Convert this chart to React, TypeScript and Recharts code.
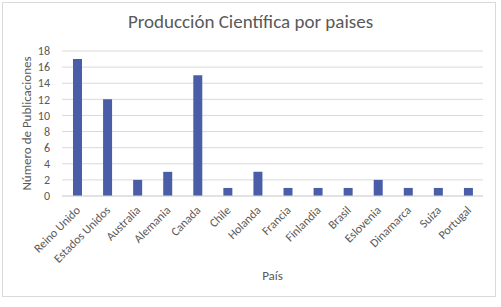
import { Bar, BarChart, CartesianGrid, Label, XAxis, YAxis } from 'recharts';

const countries = [
  'Reino Unido', 'Estados Unidos', 'Australia', 'Alemania', 'Canada', 'Chile', 'Holanda',
  'Francia', 'Finlandia', 'Brasil', 'Eslovenia', 'Dinamarca', 'Suiza', 'Portugal',
];
const publications = [17, 12, 2, 3, 15, 1, 3, 1, 1, 1, 2, 1, 1, 1];
const yTicks = [0, 2, 4, 6, 8, 10, 12, 14, 16, 18];

const data = countries.map((pais, i) => ({ pais, pubs: publications[i] }));

const font = 'Calibri, Carlito, "Open Sans", sans-serif';

function AngledTick({ x, y, payload }: any) {
  return (
    <text
      x={x + 4}
      y={y + 7}
      textAnchor="end"
      fontSize={12}
      fill="#595959"
      fontFamily={font}
      transform={`rotate(-45, ${x + 4}, ${y + 7})`}
    >
      {payload.value}
    </text>
  );
}

export default function App() {
  return (
    <div style={{ position: 'absolute', left: 0, top: 0, width: 501, height: 307, background: '#fff' }}>
      <div
        style={{
          position: 'absolute', left: 2, top: 2, width: 494, height: 295,
          border: '1px solid #d9d9d9', boxSizing: 'border-box',
        }}
      />
      <div
        style={{
          position: 'absolute', left: 0, top: 10, width: 501, textAlign: 'center',
          fontFamily: font, fontSize: 19, color: '#595959',
        }}
      >
        Producción Científica por paises
      </div>
      <BarChart
        width={501}
        height={307}
        data={data}
        margin={{ top: 51, right: 18, bottom: 0, left: 0 }}
        style={{ position: 'absolute', left: 0, top: 0 }}
      >
        <CartesianGrid vertical={false} stroke="#d9d9d9" />
        <XAxis
          dataKey="pais"
          interval={0}
          height={111}
          tickLine={false}
          axisLine={{ stroke: '#d9d9d9' }}
          tick={<AngledTick />}
        >
          <Label value="País" position="insideBottom" offset={27} fontSize={13} fill="#595959" fontFamily={font} />
        </XAxis>
        <YAxis
          domain={[0, 18]}
          ticks={yTicks}
          interval={0}
          width={62}
          tickLine={false}
          axisLine={false}
          tickMargin={6}
          tick={{ fontSize: 12, fill: '#595959', fontFamily: font }}
        >
          <Label
            value="Número de Publicaciones"
            angle={-90}
            position="insideLeft"
            offset={26}
            style={{ textAnchor: 'middle', fontSize: 13, fill: '#595959', fontFamily: font }}
          />
        </YAxis>
        <Bar dataKey="pubs" fill="#4a5ea8" barSize={9} isAnimationActive={false} />
      </BarChart>
    </div>
  );
}
